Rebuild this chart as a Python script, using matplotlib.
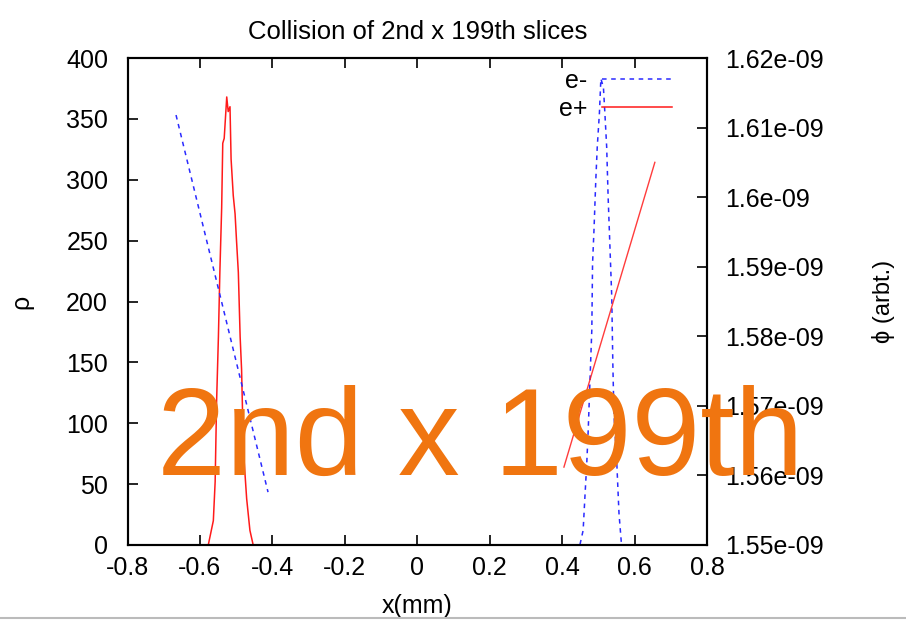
import numpy as np
import matplotlib
matplotlib.use("Agg")
import matplotlib.pyplot as plt
from matplotlib.lines import Line2D
from matplotlib.ticker import FuncFormatter

plt.rcParams['font.family'] = ['Liberation Sans', 'DejaVu Sans']

# e+ density (red peak on the left)
xp = [-0.66, -0.60, -0.577, -0.563, -0.558, -0.554, -0.549, -0.545, -0.540, -0.537,
      -0.533, -0.526, -0.522, -0.517, -0.514, -0.508, -0.503, -0.499, -0.494, -0.489,
      -0.485, -0.480, -0.471, -0.462, -0.453, -0.40]
rho_p = [0, 0, 0, 20, 52, 118, 171, 224, 277, 330,
         334, 368, 356, 360, 317, 287, 272, 250, 224, 171,
         144, 78, 38, 12, 0, 0]

# e- density (blue peak on the right)
xm = [0.40, 0.449, 0.458, 0.463, 0.468, 0.472, 0.477, 0.482, 0.484, 0.488,
      0.493, 0.497, 0.503, 0.507, 0.514, 0.518, 0.523, 0.527, 0.532, 0.537,
      0.540, 0.543, 0.551, 0.557, 0.564, 0.66]
rho_m = [0, 0, 12, 40, 67, 94, 136, 177, 231, 259,
         300, 327, 355, 383, 376, 355, 327, 286, 245, 204,
         149, 108, 67, 26, 0, 0]

# potentials (right axis)
phi_m_x = [-0.666, -0.412]
phi_m = [1.6118e-9, 1.5576e-9]
phi_p_x = [0.405, 0.656]
phi_p = [1.5612e-9, 1.605e-9]

blue = '#2a2aff'
red = '#ff1a1a'

fig = plt.figure(figsize=(9.06, 6.2), dpi=100)
ax = fig.add_axes([127.5/906, 75/620, (707-127.5)/906, (545-58)/620])
ax2 = ax.twinx()

ax.plot(xm, rho_m, color=blue, lw=1.1, ls=(0, (3, 3)), label='e-')
ax.plot(xp, rho_p, color=red, lw=1.1, label='e+')
ax2.plot(phi_m_x, phi_m, color=blue, lw=1.1, ls=(0, (3, 3)))
ax2.plot(phi_p_x, phi_p, color=red, lw=1.0, alpha=0.85)

ax.set_xlim(-0.8, 0.8)
ax.set_ylim(0, 400)
ax2.set_ylim(1.55e-9, 1.62e-9)
ax.set_xticks(np.arange(-0.8, 0.81, 0.2))
ax.set_yticks(np.arange(0, 401, 50))
ax2.set_yticks(np.arange(1.55e-9, 1.6201e-9, 0.01e-9))
ax2.yaxis.set_major_formatter(FuncFormatter(lambda v, p: '%g' % round(v, 13)))
ax.xaxis.set_major_formatter(FuncFormatter(lambda v, p: '%g' % (round(v, 6) + 0.0)))

ax.tick_params(axis='x', direction='in', top=True, length=7, width=1.2,
               labelsize=18, pad=8)
ax.tick_params(axis='y', direction='in', length=7, width=1.2, labelsize=18, pad=14)
ax2.tick_params(axis='y', direction='in', length=7, width=1.2, labelsize=18, pad=13)
for a in (ax, ax2):
    for s in a.spines.values():
        s.set_linewidth(1.5)

ax.set_title('Collision of 2nd x 199th slices', fontsize=18.5, pad=14)
ax.set_xlabel('x(mm)', fontsize=18, labelpad=10)
ax.set_ylabel('ρ', fontsize=18)
ax.yaxis.set_label_coords((33 - 127.5) / 579.5, 0.5)
ax2.set_ylabel('ϕ (arbt.)', fontsize=17)
ax2.yaxis.set_label_coords((872 - 127.5) / 579.5, 0.5)

ax.legend(loc='upper right', bbox_to_anchor=(672/906, (620-69)/620),
          bbox_transform=fig.transFigure, frameon=False, markerfirst=False,
          fontsize=18, handlelength=2.8, handletextpad=0.6, labelspacing=0.15,
          borderpad=0, borderaxespad=0)

fig.text(480/906, (620-475)/620, '2nd x 199th', color='#f07510', fontsize=89,
         ha='center', va='baseline')

fig.add_artist(Line2D([0, 1], [2/620, 2/620], transform=fig.transFigure,
                      color='#bbbbbb', lw=1.5))

fig.savefig('out.png', dpi=100)
